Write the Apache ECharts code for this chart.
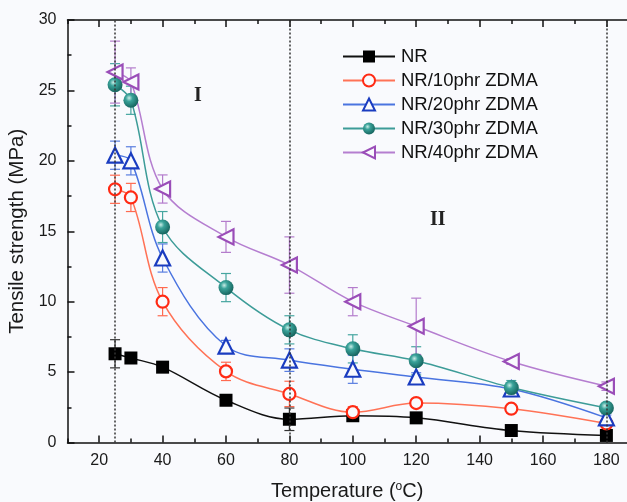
<!DOCTYPE html>
<html><head><meta charset="utf-8">
<script src="https://cdn.jsdelivr.net/npm/echarts@6/dist/echarts.min.js"></script>
<style>html,body{margin:0;padding:0;background:#f9fafd}#c{width:627px;height:502px}</style>
</head><body><div id="c"></div>
<script>
const temps = [25, 30, 40, 60, 80, 100, 120, 150, 180];
const seriesNames = ['NR', 'NR/10phr ZDMA', 'NR/20phr ZDMA', 'NR/30phr ZDMA', 'NR/40phr ZDMA'];
const nr      = [6.3, 6.0, 5.35, 3.0, 1.65, 1.9, 1.75, 0.85, 0.5];
const nrErr   = [1.0, 0.2, 0.2, 0.2, 0.8, 0.2, 0.2, 0.15, 0.15];
const zd10    = [17.98, 17.4, 10.0, 5.05, 3.45, 2.15, 2.8, 2.4, 1.35];
const zd10Err = [1.0, 1.0, 1.0, 0.65, 0.9, 0.4, 0.2, 0.2, 0.2];
const zd20    = [20.4, 20.0, 13.1, 6.85, 5.85, 5.2, 4.65, 3.8, 1.75];
const zd20Err = [1.0, 1.0, 1.0, 0.4, 0.8, 1.0, 0.3, 0.3, 0.2];
const zd30    = [25.4, 24.3, 15.3, 11.0, 8.0, 6.65, 5.8, 3.9, 2.45];
const zd30Err = [1.5, 1.0, 1.1, 1.0, 1.0, 1.0, 1.0, 0.5, 0.3];
const zd40    = [26.3, 25.6, 18.0, 14.6, 12.6, 10.0, 8.25, 5.75, 4.0];
const zd40Err = [2.2, 1.0, 1.0, 1.1, 2.0, 1.0, 2.0, 0.2, 0.3];
const xMajorTicks = [20, 40, 60, 80, 100, 120, 140, 160, 180];
const xMinorTicks = [10, 30, 50, 70, 90, 110, 130, 150, 170];
const regionLines = [25, 80, 180];
const regionLabels = ['I', 'II'];

const BG = '#f9fafd';
const X_MIN = 10, X_MAX = 186.5;
const FONT = 'Liberation Sans, Arial, sans-serif';

function pts(v) { return temps.map((t, i) => [t, v[i]]); }

function errSeries(name, vals, errs, color) {
  return {
    type: 'custom', name: name + ' error', silent: true, z: 1, xAxisIndex: 0, yAxisIndex: 0,
    data: temps.map((t, i) => [t, vals[i] - errs[i], vals[i] + errs[i]]),
    encode: { x: 0, y: [1, 2] },
    renderItem: function (params, api) {
      const lo = api.coord([api.value(0), api.value(1)]);
      const hi = api.coord([api.value(0), api.value(2)]);
      const w = 5;
      const st = { stroke: color, lineWidth: 1.2 };
      return { type: 'group', children: [
        { type: 'line', shape: { x1: hi[0], y1: hi[1], x2: lo[0], y2: lo[1] }, style: st },
        { type: 'line', shape: { x1: hi[0] - w, y1: hi[1], x2: hi[0] + w, y2: hi[1] }, style: st },
        { type: 'line', shape: { x1: lo[0] - w, y1: lo[1], x2: lo[0] + w, y2: lo[1] }, style: st }
      ]};
    }
  };
}

function lineSeries(name, vals, lineColor, symbol, size, itemStyle, extra) {
  return Object.assign({
    type: 'line', name: name, data: pts(vals), smooth: 0.35, z: 3,
    color: lineColor,
    symbol: symbol, symbolSize: size,
    lineStyle: { color: lineColor, width: 1.5 },
    itemStyle: itemStyle,
    emphasis: { disabled: true }
  }, extra || {});
}

const sphere = {
  type: 'radial', x: 0.38, y: 0.35, r: 0.65,
  colorStops: [{ offset: 0, color: '#c8ece6' }, { offset: 0.35, color: '#3aa39a' }, { offset: 1, color: '#176660' }]
};

const axisFont = { fontFamily: FONT, fontSize: 16, color: '#1a1a1a' };

const option = {
  backgroundColor: BG,
  animation: false,
  grid: { left: 67.5, right: 0, top: 20, bottom: 59.5, containLabel: false, outerBoundsMode: 'none' },
  legend: {
    orient: 'vertical', left: 337, top: 42,
    itemWidth: 52, itemHeight: 15, itemGap: 5,
    textStyle: { fontFamily: FONT, fontSize: 18.5, color: '#111', padding: [0, 0, 0, 1] },
    data: seriesNames
  },
  xAxis: [
    { type: 'value', position: 'bottom', min: X_MIN, max: X_MAX,
      axisLine: { show: true, lineStyle: { color: '#111', width: 1.5 } },
      axisTick: { show: true, inside: true, length: 7, customValues: xMajorTicks, lineStyle: { color: '#111', width: 1.5 } },
      axisLabel: Object.assign({ customValues: xMajorTicks, margin: 10 }, axisFont),
      splitLine: { show: false },
      name: 'Temperature ({sup|o}C)', nameLocation: 'middle', nameGap: 38,
      nameTextStyle: { fontFamily: FONT, fontSize: 20, color: '#1a1a1a',
        rich: { sup: { fontFamily: FONT, fontSize: 12, color: '#1a1a1a', verticalAlign: 'top', padding: [0, 0, 10, 0] } } } },
    { type: 'value', position: 'bottom', min: X_MIN, max: X_MAX,
      axisLine: { show: false },
      axisTick: { show: true, inside: true, length: 4, customValues: xMinorTicks, lineStyle: { color: '#111', width: 1.5 } },
      axisLabel: { show: false }, splitLine: { show: false } },
    { type: 'value', position: 'top', min: X_MIN, max: X_MAX,
      axisLine: { show: true, lineStyle: { color: '#111', width: 1.5 } },
      axisTick: { show: true, inside: true, length: 7, customValues: xMajorTicks, lineStyle: { color: '#111', width: 1.5 } },
      axisLabel: { show: false }, splitLine: { show: false } },
    { type: 'value', position: 'top', min: X_MIN, max: X_MAX,
      axisLine: { show: false },
      axisTick: { show: true, inside: true, length: 4, customValues: xMinorTicks, lineStyle: { color: '#111', width: 1.5 } },
      axisLabel: { show: false }, splitLine: { show: false } }
  ],
  yAxis: [
    { type: 'value', min: 0, max: 30, interval: 5,
      axisLine: { show: true, lineStyle: { color: '#111', width: 1.5 } },
      axisTick: { show: true, inside: true, length: 7, lineStyle: { color: '#111', width: 1.5 } },
      minorTick: { show: true, splitNumber: 2, length: 4, lineStyle: { color: '#111', width: 1.5 } },
      axisLabel: Object.assign({ margin: 11 }, axisFont),
      splitLine: { show: false }, minorSplitLine: { show: false },
      name: 'Tensile strength (MPa)', nameLocation: 'middle', nameGap: 34,
      nameTextStyle: { fontFamily: FONT, fontSize: 20.5, color: '#1a1a1a' } }
  ],
  graphic: [
    { type: 'text', left: 194, top: 86, style: { text: regionLabels[0], font: 'bold 20px "Liberation Serif", serif', fill: '#222' } },
    { type: 'text', left: 430, top: 210, style: { text: regionLabels[1], font: 'bold 20px "Liberation Serif", serif', fill: '#222' } }
  ],
  series: [
    lineSeries('NR', nr, '#111', 'rect', 13, { color: '#000' }, {
      markLine: { silent: true, symbol: 'none', label: { show: false },
        lineStyle: { color: '#333', type: [2, 2], width: 1.5 },
        data: regionLines.map(v => ({ xAxis: v })) } }),
    lineSeries('NR/10phr ZDMA', zd10, '#ff7256', 'circle', 12, { color: BG, borderColor: '#ff2a14', borderWidth: 2.2 }),
    lineSeries('NR/20phr ZDMA', zd20, '#4a74e0', 'triangle', 15, { color: BG, borderColor: '#1a3cc0', borderWidth: 2.2 }),
    lineSeries('NR/30phr ZDMA', zd30, '#3d9c98', 'circle', 15, { color: sphere }),
    lineSeries('NR/40phr ZDMA', zd40, '#b57ed0', 'triangle', 15, { color: BG, borderColor: '#9a4db8', borderWidth: 2.2 }, { symbolRotate: 90 }),
    errSeries('NR', nr, nrErr, '#333'),
    errSeries('NR/10phr ZDMA', zd10, zd10Err, '#ff6a50'),
    errSeries('NR/20phr ZDMA', zd20, zd20Err, '#5a7ee0'),
    errSeries('NR/30phr ZDMA', zd30, zd30Err, '#46a6a0'),
    errSeries('NR/40phr ZDMA', zd40, zd40Err, '#b47ccc')
  ]
};

echarts.init(document.getElementById('c')).setOption(option);
</script>
</body></html>
